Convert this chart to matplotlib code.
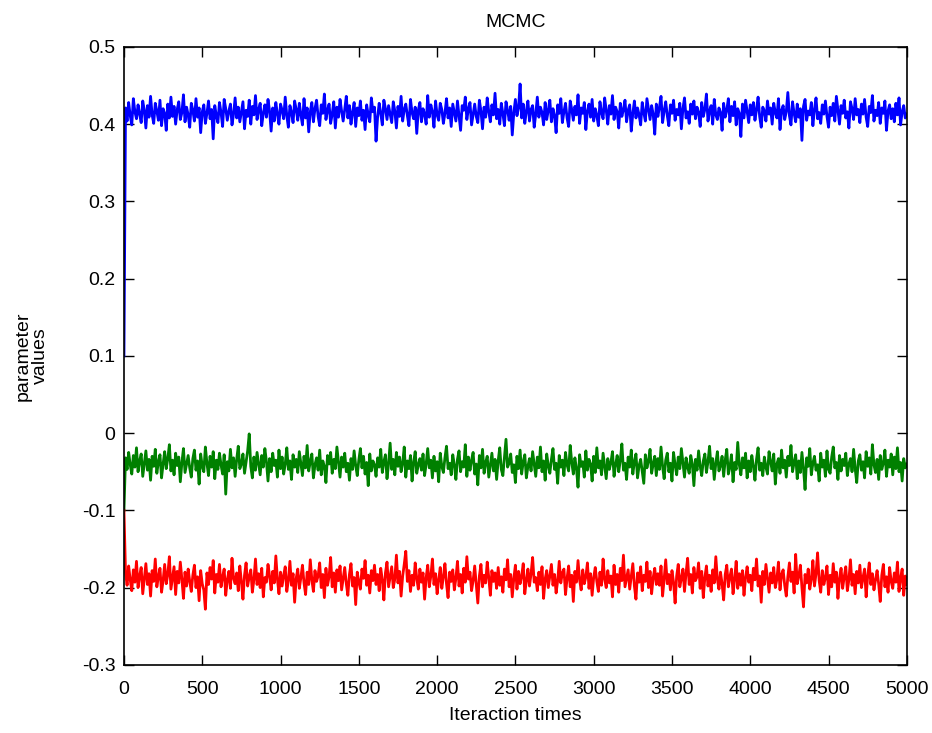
import matplotlib.pyplot as plt
import numpy as np

# MCMC chains, one sample every 10 iterations
iters = np.arange(0, 5001, 10)

blue_chain = [
    0.100,
    0.421, 0.404, 0.428, 0.411, 0.399, 0.433, 0.416, 0.407, 0.425, 0.413,
    0.402, 0.430, 0.418, 0.395, 0.424, 0.409, 0.436, 0.412, 0.401, 0.427,
    0.417, 0.405, 0.431, 0.398, 0.420, 0.414, 0.392, 0.426, 0.408, 0.435,
    0.410, 0.423, 0.400, 0.419, 0.429, 0.406, 0.415, 0.438, 0.403, 0.422,
    0.412, 0.396, 0.427, 0.418, 0.404, 0.433, 0.409, 0.421, 0.389, 0.416,
    0.425, 0.401, 0.414, 0.430, 0.407, 0.419, 0.381, 0.424, 0.411, 0.402,
    0.428, 0.415, 0.397, 0.432, 0.420, 0.405, 0.417, 0.426, 0.399, 0.413,
    0.434, 0.408, 0.422, 0.403, 0.416, 0.429, 0.394, 0.418, 0.410, 0.431,
    0.400, 0.423, 0.412, 0.437, 0.406, 0.419, 0.427, 0.398, 0.414, 0.425,
    0.409, 0.432, 0.417, 0.391, 0.421, 0.404, 0.428, 0.413, 0.400, 0.426,
    0.418, 0.407, 0.435, 0.411, 0.396, 0.424, 0.415, 0.402, 0.430, 0.419,
    0.405, 0.427, 0.412, 0.399, 0.433, 0.408, 0.421, 0.390, 0.416, 0.428,
    0.403, 0.420, 0.431, 0.410, 0.398, 0.425, 0.414, 0.439, 0.406, 0.418,
    0.426, 0.401, 0.413, 0.429, 0.395, 0.422, 0.409, 0.432, 0.417, 0.404,
    0.419, 0.436, 0.408, 0.424, 0.400, 0.415, 0.428, 0.397, 0.421, 0.411,
    0.430, 0.405, 0.418, 0.393, 0.425, 0.412, 0.403, 0.434, 0.416, 0.422,
    0.378, 0.409, 0.427, 0.414, 0.399, 0.431, 0.420, 0.406, 0.424, 0.413,
    0.402, 0.429, 0.417, 0.395, 0.423, 0.410, 0.436, 0.404, 0.419, 0.426,
    0.411, 0.398, 0.432, 0.415, 0.407, 0.422, 0.388, 0.418, 0.428, 0.403,
    0.420, 0.413, 0.400, 0.437, 0.409, 0.425, 0.416, 0.396, 0.430, 0.412,
    0.405, 0.427, 0.419, 0.401, 0.414, 0.433, 0.408, 0.421, 0.397, 0.426,
    0.415, 0.404, 0.430, 0.411, 0.392, 0.424, 0.418, 0.435, 0.406, 0.420,
    0.428, 0.399, 0.413, 0.426, 0.410, 0.402, 0.431, 0.417, 0.394, 0.422,
    0.409, 0.434, 0.416, 0.403, 0.425, 0.412, 0.440, 0.407, 0.419, 0.400,
    0.427, 0.414, 0.398, 0.429, 0.418, 0.405, 0.423, 0.386, 0.415, 0.432,
    0.411, 0.421, 0.452, 0.408, 0.426, 0.401, 0.417, 0.430, 0.404, 0.419,
    0.424, 0.396, 0.413, 0.435, 0.409, 0.422, 0.415, 0.399, 0.428, 0.406,
    0.418, 0.431, 0.403, 0.420, 0.411, 0.389, 0.425, 0.414, 0.433, 0.402,
    0.416, 0.427, 0.408, 0.397, 0.430, 0.419, 0.405, 0.423, 0.412, 0.438,
    0.401, 0.421, 0.414, 0.428, 0.393, 0.417, 0.426, 0.409, 0.432, 0.404,
    0.420, 0.411, 0.398, 0.429, 0.415, 0.407, 0.434, 0.418, 0.400, 0.424,
    0.413, 0.437, 0.406, 0.422, 0.416, 0.395, 0.427, 0.410, 0.419, 0.431,
    0.403, 0.418, 0.425, 0.391, 0.414, 0.430, 0.408, 0.421, 0.412, 0.399,
    0.428, 0.415, 0.404, 0.433, 0.419, 0.406, 0.424, 0.413, 0.387, 0.426,
    0.410, 0.422, 0.436, 0.402, 0.417, 0.429, 0.411, 0.398, 0.425, 0.414,
    0.431, 0.405, 0.419, 0.412, 0.427, 0.394, 0.420, 0.434, 0.408, 0.416,
    0.401, 0.426, 0.413, 0.430, 0.407, 0.422, 0.415, 0.397, 0.428, 0.410,
    0.419, 0.439, 0.404, 0.417, 0.424, 0.400, 0.432, 0.412, 0.406, 0.421,
    0.415, 0.392, 0.427, 0.409, 0.418, 0.433, 0.403, 0.423, 0.411, 0.429,
    0.399, 0.420, 0.414, 0.384, 0.426, 0.408, 0.431, 0.416, 0.402, 0.425,
    0.412, 0.428, 0.405, 0.419, 0.435, 0.410, 0.396, 0.422, 0.417, 0.404,
    0.430, 0.413, 0.421, 0.400, 0.427, 0.415, 0.408, 0.433, 0.393, 0.418,
    0.424, 0.406, 0.416, 0.441, 0.411, 0.399, 0.429, 0.414, 0.403, 0.426,
    0.409, 0.420, 0.379, 0.423, 0.432, 0.405, 0.417, 0.412, 0.428, 0.398,
    0.419, 0.434, 0.407, 0.415, 0.401, 0.425, 0.413, 0.430, 0.410, 0.396,
    0.422, 0.411, 0.427, 0.404, 0.436, 0.418, 0.400, 0.424, 0.414, 0.431,
    0.408, 0.416, 0.395, 0.429, 0.420, 0.406, 0.433, 0.412, 0.419, 0.402,
    0.426, 0.413, 0.432, 0.409, 0.397, 0.423, 0.415, 0.437, 0.404, 0.418,
    0.411, 0.428, 0.401, 0.421, 0.414, 0.430, 0.392, 0.417, 0.425, 0.407,
    0.420, 0.403, 0.427, 0.412, 0.434, 0.399, 0.416, 0.424, 0.408, 0.413,
]

green_chain = [
    -0.100,
    -0.032, -0.047, -0.025, -0.041, -0.053, -0.029, -0.044, -0.019, -0.050, -0.036,
    -0.027, -0.056, -0.039, -0.023, -0.048, -0.034, -0.061, -0.030, -0.043, -0.021,
    -0.052, -0.037, -0.028, -0.058, -0.040, -0.024, -0.046, -0.033, -0.015, -0.049,
    -0.035, -0.054, -0.026, -0.042, -0.031, -0.063, -0.038, -0.020, -0.051, -0.040,
    -0.029, -0.045, -0.057, -0.033, -0.022, -0.048, -0.036, -0.066, -0.027, -0.043,
    -0.050, -0.018, -0.039, -0.055, -0.030, -0.044, -0.024, -0.059, -0.035, -0.047,
    -0.026, -0.041, -0.053, -0.028, -0.079, -0.037, -0.049, -0.021, -0.045, -0.032,
    -0.056, -0.034, -0.017, -0.046, -0.040, -0.027, -0.052, -0.038, -0.023, -0.001,
    -0.043, -0.058, -0.031, -0.048, -0.025, -0.039, -0.054, -0.029, -0.044, -0.020,
    -0.037, -0.062, -0.033, -0.050, -0.026, -0.042, -0.035, -0.057, -0.022, -0.046,
    -0.031, -0.053, -0.040, -0.019, -0.047, -0.036, -0.060, -0.028, -0.044, -0.034,
    -0.051, -0.024, -0.039, -0.055, -0.030, -0.045, -0.016, -0.049, -0.037, -0.027,
    -0.058, -0.041, -0.032, -0.048, -0.022, -0.054, -0.036, -0.043, -0.064, -0.029,
    -0.040, -0.025, -0.052, -0.034, -0.046, -0.018, -0.038, -0.057, -0.031, -0.044,
    -0.026, -0.050, -0.039, -0.061, -0.033, -0.047, -0.023, -0.042, -0.055, -0.035,
    -0.020, -0.045, -0.030, -0.053, -0.038, -0.068, -0.027, -0.049, -0.036, -0.041,
    -0.056, -0.032, -0.044, -0.021, -0.051, -0.037, -0.028, -0.059, -0.040, -0.013,
    -0.047, -0.034, -0.054, -0.025, -0.043, -0.031, -0.050, -0.039, -0.018, -0.057,
    -0.036, -0.046, -0.029, -0.062, -0.038, -0.024, -0.052, -0.041, -0.033, -0.048,
    -0.027, -0.055, -0.040, -0.020, -0.045, -0.035, -0.058, -0.030, -0.049, -0.037,
    -0.063, -0.026, -0.043, -0.051, -0.032, -0.017, -0.046, -0.039, -0.054, -0.028,
    -0.041, -0.060, -0.034, -0.023, -0.050, -0.037, -0.044, -0.015, -0.056, -0.031,
    -0.048, -0.035, -0.025, -0.053, -0.040, -0.067, -0.029, -0.045, -0.021, -0.052,
    -0.038, -0.030, -0.057, -0.042, -0.026, -0.049, -0.034, -0.060, -0.036, -0.019,
    -0.047, -0.055, -0.032, -0.008, -0.044, -0.039, -0.027, -0.051, -0.041, -0.064,
    -0.030, -0.046, -0.022, -0.053, -0.037, -0.028, -0.058, -0.043, -0.033, -0.049,
    -0.024, -0.040, -0.056, -0.031, -0.045, -0.018, -0.050, -0.036, -0.061, -0.027,
    -0.042, -0.052, -0.034, -0.020, -0.047, -0.039, -0.065, -0.029, -0.044, -0.035,
    -0.055, -0.025, -0.041, -0.049, -0.016, -0.038, -0.053, -0.032, -0.046, -0.070,
    -0.028, -0.043, -0.037, -0.057, -0.023, -0.048, -0.034, -0.040, -0.062, -0.030,
    -0.051, -0.019, -0.045, -0.036, -0.054, -0.026, -0.042, -0.059, -0.033, -0.047,
    -0.038, -0.024, -0.056, -0.041, -0.029, -0.050, -0.035, -0.014, -0.048, -0.039,
    -0.060, -0.031, -0.044, -0.022, -0.053, -0.037, -0.027, -0.058, -0.042, -0.034,
    -0.049, -0.065, -0.028, -0.045, -0.036, -0.021, -0.052, -0.040, -0.030, -0.055,
    -0.033, -0.047, -0.018, -0.043, -0.059, -0.035, -0.026, -0.050, -0.039, -0.062,
    -0.025, -0.041, -0.054, -0.031, -0.046, -0.020, -0.038, -0.057, -0.032, -0.044,
    -0.052, -0.029, -0.040, -0.068, -0.034, -0.048, -0.023, -0.043, -0.055, -0.036,
    -0.027, -0.051, -0.037, -0.017, -0.046, -0.033, -0.060, -0.039, -0.024, -0.049,
    -0.042, -0.030, -0.056, -0.035, -0.021, -0.053, -0.044, -0.028, -0.063, -0.038,
    -0.047, -0.012, -0.041, -0.054, -0.032, -0.045, -0.026, -0.058, -0.036, -0.050,
    -0.029, -0.043, -0.061, -0.034, -0.019, -0.048, -0.039, -0.055, -0.031, -0.044,
    -0.053, -0.024, -0.037, -0.049, -0.027, -0.066, -0.040, -0.033, -0.052, -0.022,
    -0.045, -0.035, -0.057, -0.030, -0.042, -0.016, -0.050, -0.038, -0.028, -0.059,
    -0.036, -0.051, -0.025, -0.046, -0.073, -0.032, -0.043, -0.020, -0.054, -0.039,
    -0.030, -0.048, -0.041, -0.062, -0.026, -0.044, -0.035, -0.056, -0.023, -0.047,
    -0.052, -0.031, -0.018, -0.045, -0.038, -0.060, -0.029, -0.049, -0.034, -0.042,
    -0.026, -0.055, -0.040, -0.033, -0.050, -0.021, -0.046, -0.064, -0.036, -0.028,
    -0.048, -0.037, -0.058, -0.024, -0.043, -0.032, -0.053, -0.015, -0.041, -0.051,
    -0.034, -0.060, -0.029, -0.047, -0.039, -0.022, -0.056, -0.035, -0.044, -0.027,
    -0.054, -0.031, -0.046, -0.019, -0.050, -0.038, -0.062, -0.033, -0.045, -0.040,
]

red_chain = [
    -0.100,
    -0.181, -0.197, -0.172, -0.190, -0.204, -0.177, -0.193, -0.166, -0.200, -0.185,
    -0.174, -0.208, -0.188, -0.169, -0.196, -0.182, -0.211, -0.178, -0.192, -0.163,
    -0.199, -0.186, -0.175, -0.206, -0.191, -0.170, -0.195, -0.183, -0.160, -0.202,
    -0.187, -0.173, -0.209, -0.179, -0.194, -0.167, -0.189, -0.214, -0.180, -0.198,
    -0.176, -0.192, -0.205, -0.184, -0.171, -0.200, -0.186, -0.217, -0.178, -0.195,
    -0.203, -0.228, -0.181, -0.196, -0.174, -0.189, -0.165, -0.207, -0.183, -0.193,
    -0.170, -0.199, -0.186, -0.176, -0.210, -0.190, -0.179, -0.201, -0.162, -0.188,
    -0.195, -0.181, -0.204, -0.172, -0.192, -0.215, -0.184, -0.168, -0.198, -0.186,
    -0.177, -0.206, -0.190, -0.163, -0.196, -0.182, -0.200, -0.175, -0.212, -0.187,
    -0.193, -0.170, -0.185, -0.203, -0.179, -0.194, -0.159, -0.189, -0.208, -0.180,
    -0.198, -0.184, -0.173, -0.205, -0.191, -0.166, -0.197, -0.182, -0.219, -0.188,
    -0.176, -0.201, -0.187, -0.171, -0.194, -0.209, -0.180, -0.196, -0.164, -0.190,
    -0.205, -0.178, -0.192, -0.185, -0.168, -0.200, -0.183, -0.213, -0.175, -0.197,
    -0.186, -0.161, -0.199, -0.181, -0.206, -0.177, -0.191, -0.172, -0.203, -0.189,
    -0.174, -0.195, -0.210, -0.183, -0.169, -0.198, -0.187, -0.222, -0.180, -0.193,
    -0.202, -0.176, -0.188, -0.165, -0.197, -0.184, -0.207, -0.178, -0.191, -0.171,
    -0.196, -0.183, -0.204, -0.175, -0.190, -0.216, -0.181, -0.167, -0.199, -0.186,
    -0.173, -0.200, -0.189, -0.158, -0.194, -0.179, -0.211, -0.185, -0.170, -0.153,
    -0.192, -0.178, -0.205, -0.184, -0.197, -0.168, -0.188, -0.202, -0.176, -0.193,
    -0.181, -0.215, -0.187, -0.171, -0.199, -0.185, -0.163, -0.196, -0.182, -0.208,
    -0.190, -0.174, -0.201, -0.186, -0.169, -0.195, -0.213, -0.180, -0.192, -0.177,
    -0.203, -0.188, -0.166, -0.198, -0.183, -0.207, -0.175, -0.193, -0.160, -0.189,
    -0.180, -0.204, -0.191, -0.172, -0.196, -0.220, -0.185, -0.170, -0.199, -0.184,
    -0.194, -0.167, -0.187, -0.210, -0.178, -0.192, -0.181, -0.201, -0.174, -0.197,
    -0.186, -0.206, -0.176, -0.190, -0.164, -0.199, -0.183, -0.212, -0.188, -0.171,
    -0.202, -0.179, -0.195, -0.185, -0.169, -0.208, -0.191, -0.176, -0.198, -0.182,
    -0.161, -0.193, -0.187, -0.204, -0.180, -0.196, -0.173, -0.214, -0.189, -0.178,
    -0.200, -0.185, -0.170, -0.197, -0.183, -0.207, -0.191, -0.166, -0.194, -0.181,
    -0.176, -0.209, -0.188, -0.172, -0.199, -0.184, -0.218, -0.179, -0.193, -0.165,
    -0.190, -0.203, -0.177, -0.195, -0.186, -0.168, -0.201, -0.182, -0.210, -0.187,
    -0.174, -0.192, -0.205, -0.180, -0.197, -0.163, -0.189, -0.200, -0.178, -0.194,
    -0.185, -0.212, -0.171, -0.196, -0.183, -0.206, -0.175, -0.191, -0.158, -0.199,
    -0.188, -0.177, -0.202, -0.186, -0.169, -0.198, -0.215, -0.181, -0.193, -0.173,
    -0.204, -0.184, -0.192, -0.167, -0.200, -0.179, -0.208, -0.187, -0.175, -0.196,
    -0.182, -0.197, -0.172, -0.211, -0.189, -0.164, -0.195, -0.183, -0.203, -0.178,
    -0.193, -0.220, -0.185, -0.170, -0.199, -0.188, -0.176, -0.205, -0.181, -0.162,
    -0.196, -0.183, -0.207, -0.174, -0.191, -0.186, -0.168, -0.201, -0.179, -0.213,
    -0.187, -0.172, -0.198, -0.184, -0.205, -0.177, -0.194, -0.160, -0.189, -0.202,
    -0.180, -0.195, -0.216, -0.183, -0.171, -0.199, -0.186, -0.176, -0.208, -0.190,
    -0.166, -0.201, -0.182, -0.197, -0.178, -0.210, -0.187, -0.173, -0.193, -0.184,
    -0.204, -0.175, -0.190, -0.163, -0.198, -0.185, -0.219, -0.179, -0.196, -0.170,
    -0.188, -0.206, -0.181, -0.194, -0.174, -0.200, -0.189, -0.167, -0.203, -0.183,
    -0.177, -0.197, -0.211, -0.186, -0.168, -0.192, -0.180, -0.207, -0.157, -0.195,
    -0.185, -0.171, -0.200, -0.225, -0.183, -0.194, -0.176, -0.202, -0.189, -0.165,
    -0.198, -0.182, -0.155, -0.191, -0.206, -0.178, -0.196, -0.187, -0.172, -0.209,
    -0.184, -0.199, -0.169, -0.193, -0.180, -0.214, -0.188, -0.175, -0.201, -0.186,
    -0.173, -0.204, -0.190, -0.164, -0.197, -0.183, -0.208, -0.179, -0.194, -0.171,
    -0.200, -0.187, -0.176, -0.212, -0.185, -0.168, -0.196, -0.182, -0.203, -0.190,
    -0.178, -0.195, -0.218, -0.184, -0.170, -0.199, -0.186, -0.206, -0.174, -0.192,
    -0.201, -0.181, -0.193, -0.167, -0.205, -0.188, -0.176, -0.210, -0.185, -0.196,
]

yticks = [-0.3, -0.2, -0.1, 0, 0.1, 0.2, 0.3, 0.4, 0.5]
ytick_labels = ['-0.3', '-0.2', '-0.1', '0', '0.1', '0.2', '0.3', '0.4', '0.5']
xticks = list(range(0, 5001, 500))

plt.rcParams['font.family'] = ['Liberation Sans', 'DejaVu Sans']

fig = plt.figure(figsize=(9.32, 7.33), dpi=100)
ax = fig.add_axes([0.133, 0.093, 0.840, 0.843])

# thick lines so the dense chain reads as a solid band like the original
ax.plot(iters, blue_chain, color=(0, 0, 1), linewidth=2.0)
ax.plot(iters, green_chain, color=(0, 0.5, 0), linewidth=2.0)
ax.plot(iters, red_chain, color=(1, 0, 0), linewidth=2.0)

ax.set_xlim(0, 5000)
ax.set_ylim(-0.3, 0.5)
ax.set_xticks(xticks)
ax.set_yticks(yticks)
ax.set_yticklabels(ytick_labels)
ax.tick_params(direction='in', length=7, width=1, top=True, right=True,
               labelsize=14)
ax.tick_params(axis='x', pad=12)
ax.tick_params(axis='y', pad=6)
for s in ax.spines.values():
    s.set_linewidth(1.2)
    s.set_zorder(3)

ax.set_title('MCMC', fontsize=14, pad=14)
ax.set_xlabel('Iteraction times', fontsize=14, labelpad=6)
ax.set_ylabel('parameter\nvalues', fontsize=14, labelpad=24, linespacing=1.0)

fig.savefig('out.png', dpi=100)
